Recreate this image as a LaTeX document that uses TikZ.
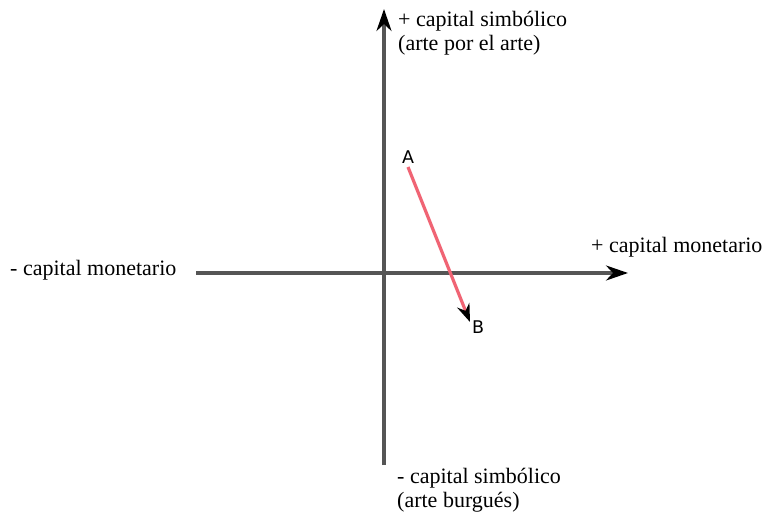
\documentclass[tikz,border=0pt]{standalone}
\usepackage{fontspec}
\setmainfont{Liberation Serif}
\newfontfamily\labfont{DejaVu Sans}
\usetikzlibrary{arrows.meta}
\definecolor{axisgray}{HTML}{555555}
\definecolor{arrred}{HTML}{F06474}
\begin{document}
\begin{tikzpicture}[x=1pt,y=-1pt,
  axis/.style={draw=axisgray,line width=3.2pt,-{Stealth[length=22pt,width=15pt,inset=7pt,black]}},
  move/.style={draw=arrred,line width=3.2pt,-{Stealth[length=18pt,width=13pt,inset=6pt,black]}},
  lbl/.style={font=\fontsize{22}{24}\selectfont,inner sep=0pt,align=left},
  pt/.style={font=\labfont\fontsize{17.5}{19}\selectfont,inner sep=0pt}]
\useasboundingbox (0,0) rectangle (763,518);
\coordinate (vb) at (384,465);
\coordinate (vt) at (384,9);
\coordinate (hl) at (196,273);
\coordinate (hr) at (628,273);
\draw[axis] (vb) -- (vt);
\draw[axis] (hl) -- (hr);
\node[pt] (A) at (408,157) {A};
\node[pt] (B) at (478,327) {B};
\draw[move] ([shift={(0,10)}]A.center) -- ([shift={(-8,-5)}]B.center);
\node[lbl,anchor=base west] (ps) at (398,51) {+ capital simbólico\\(arte por el arte)};
\node[lbl,anchor=base west] (ms) at (397,507) {- capital simbólico\\(arte burgués)};
\node[lbl,anchor=base west] (mm) at (10,276) {- capital monetario};
\node[lbl,anchor=base west] (pm) at (591,253) {+ capital monetario};
\end{tikzpicture}
\end{document}
